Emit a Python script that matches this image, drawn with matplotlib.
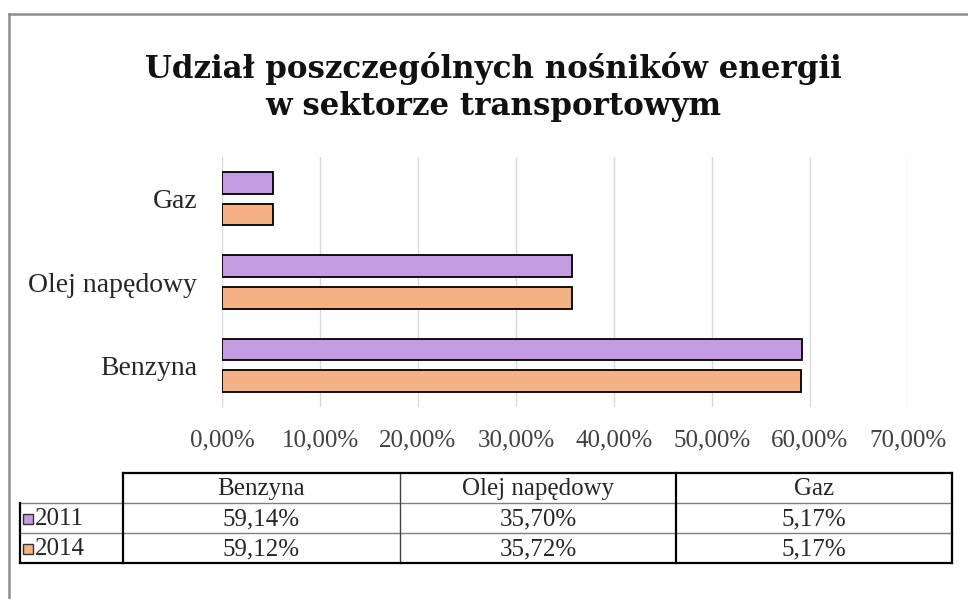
import matplotlib.pyplot as plt
from matplotlib.lines import Line2D
from matplotlib.patches import Rectangle
from matplotlib.ticker import FuncFormatter
import numpy as np

# data
categories = ['Benzyna', 'Olej napędowy', 'Gaz']
years = ['2011', '2014']
share_2011 = [59.14, 35.70, 5.17]
share_2014 = [59.12, 35.72, 5.17]
xticks = [0, 10, 20, 30, 40, 50, 60, 70]

col_purple = '#C39BE0'
col_orange = '#F4B183'
W, H = 968, 599

def fx(px):
   return px / W

def fy(py):
   return 1 - py / H

def pct(v):
   return ('%.2f%%' % v).replace('.', ',')

fig = plt.figure(figsize=(9.68, 5.99), dpi=100)
fig.patch.set_facecolor('white')

# outer frame (top and left edges only are visible)
fig.add_artist(Line2D([fx(9), fx(968)], [fy(14), fy(14)], color='#8c8c8c', lw=1.8))
fig.add_artist(Line2D([fx(9), fx(9)], [fy(14), fy(599)], color='#8c8c8c', lw=1.8))

fig.text(fx(493), fy(87), 'Udział poszczególnych nośników energii\nw sektorze transportowym',
         ha='center', va='center', fontsize=22.2, fontweight='bold',
         family='DejaVu Serif', color='#111111', linespacing=1.25)

# bar chart
ax = fig.add_axes([fx(222), fy(407), fx(908) - fx(222), fy(157) - fy(407)])
y = np.arange(len(categories))
bh = 0.26
off = 0.19
ax.barh(y + off, share_2011, height=bh, color=col_purple, edgecolor='black', linewidth=1.3, zorder=3)
ax.barh(y - off, share_2014, height=bh, color=col_orange, edgecolor='black', linewidth=1.3, zorder=3)
ax.set_xlim(0, 70)
ax.set_ylim(-0.5, 2.5)
ax.set_xticks(xticks)
ax.xaxis.set_major_formatter(FuncFormatter(lambda v, p: pct(v)))
ax.set_yticks(y)
ax.set_yticklabels(categories)
ax.grid(axis='x', color='#d9d9d9', lw=1, zorder=0)
for s in ax.spines.values():
   s.set_visible(False)
ax.tick_params(axis='both', length=0)
ax.tick_params(axis='x', pad=16, labelsize=18, labelcolor='#404040')
ax.tick_params(axis='y', pad=18, labelsize=20, labelcolor='#262626')
for lab in ax.get_xticklabels() + ax.get_yticklabels():
   lab.set_family('Liberation Serif')

# data table below the chart
tx0, tx1 = 20, 952
cx = [123, 400, 676, 952]
ty = [473, 503, 533, 563]
thin = dict(color='#7f7f7f', lw=1)
thick = dict(color='black', lw=1.6)

def hline(x0, x1, yy, **kw):
   fig.add_artist(Line2D([fx(x0), fx(x1)], [fy(yy), fy(yy)], **kw))

def vline(xx, y0, y1, **kw):
   fig.add_artist(Line2D([fx(xx), fx(xx)], [fy(y0), fy(y1)], **kw))

hline(tx0, tx1, ty[1], **thin)
hline(tx0, tx1, ty[2], **thin)
vline(cx[1], ty[0], ty[3], color='#404040', lw=1)
vline(cx[2], ty[0], ty[3], **thick)
hline(cx[0], tx1, ty[0], **thick)
hline(tx0, tx1, ty[3], **thick)
vline(tx0, ty[1], ty[3], **thick)
vline(cx[0], ty[0], ty[3], **thick)
vline(tx1, ty[0], ty[3], **thick)

tfont = dict(family='Liberation Serif', fontsize=18, color='#262626')
for i, c in enumerate(categories):
   fig.text(fx((cx[i] + cx[i + 1]) / 2), fy((ty[0] + ty[1]) / 2 + 1), c, ha='center', va='center', **tfont)

rows = [share_2011, share_2014]
colors = [col_purple, col_orange]
for r, (yr, vals, c) in enumerate(zip(years, rows, colors)):
   ym = (ty[r + 1] + ty[r + 2]) / 2 + 1
   fig.add_artist(Rectangle((fx(23), fy(ym + 5)), fx(10), fy(0) - fy(10),
                            facecolor=c, edgecolor='#333333', lw=1))
   fig.text(fx(35), fy(ym), yr, ha='left', va='center', **tfont)
   for i, v in enumerate(vals):
      fig.text(fx((cx[i] + cx[i + 1]) / 2), fy(ym), pct(v), ha='center', va='center', **tfont)

fig.savefig('out.png', dpi=100, facecolor='white')
